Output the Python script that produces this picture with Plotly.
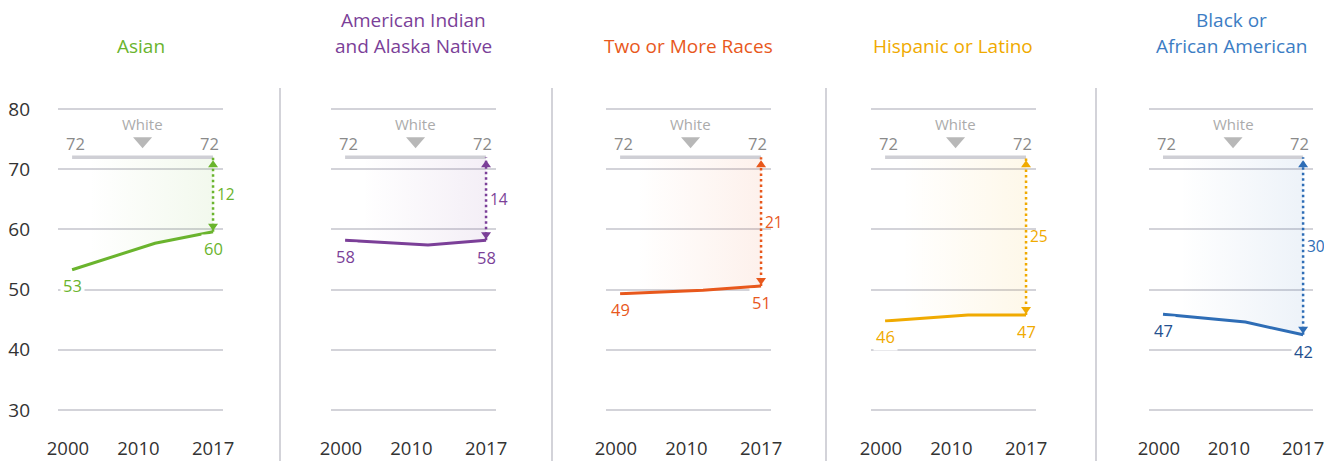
import plotly.graph_objects as go

# ---------------- data ----------------
years = [2000, 2010, 2017]
groups = ["Asian", "American Indian and Alaska Native", "Two or More Races",
          "Hispanic or Latino", "Black or African American"]
title_lines = [["Asian"], ["American Indian", "and Alaska Native"], ["Two or More Races"],
               ["Hispanic or Latino"], ["Black or", "African American"]]
asian = [53.3, 57.7, 59.6]
aian = [58.2, 57.4, 58.2]
two_more = [49.3, 49.9, 50.6]
hispanic = [44.8, 45.8, 45.8]
black = [45.9, 44.6, 42.5]
series = [asian, aian, two_more, hispanic, black]

white_years = [2000, 2017]
white = [72, 72]
white_labels = ["72", "72"]

start_labels = ["53", "58", "49", "46", "47"]
end_labels = ["60", "58", "51", "47", "42"]
gap_labels = ["12", "14", "21", "25", "30"]

y_ticks = [30, 40, 50, 60, 70, 80]
x_tick_text = ["2000", "2010", "2017"]

# ---------------- style ----------------
line_colors = ["#6ab42d", "#7b3f98", "#e8581c", "#f0aa00", "#2e6db6"]
label_colors = ["#6ab42d", "#7b3f98", "#e8581c", "#f0aa00", "#23508f"]
title_colors = ["#6ab42d", "#7b3f98", "#e8581c", "#f0aa00", "#3c7dc4"]
rgb = [(106, 180, 45), (123, 63, 152), (232, 88, 28), (240, 170, 0), (46, 109, 182)]

OFF = 8  # page body margin offset
W, H = 1332, 461
PLOT_TOP, PLOT_BOT = 103 - OFF, 416 - OFF
MT, MB = PLOT_TOP, H - PLOT_BOT
panel_px = [(58, 223), (331, 496), (606, 771), (871, 1036), (1149, 1313)]
panel_px = [(a - OFF, b - OFF) for a, b in panel_px]
sep_px = [x - OFF for x in [280, 552, 826, 1096]]
GRID = "#d3d3d9"
FONT = "Open Sans"


def py2paper(py):
    # py in screen pixels
    py = py - OFF
    return (H - MB - py) / (H - MT - MB)


fig = go.Figure()
annotations = []
shapes = []

for i, vals in enumerate(series):
    xa = "x" if i == 0 else f"x{i+1}"
    ya = "y" if i == 0 else f"y{i+1}"
    r, g, b = rgb[i]
    fig.add_trace(go.Scatter(x=white_years, y=white, mode="lines",
                             line=dict(color="#cfcfd5", width=3.5),
                             xaxis=xa, yaxis=ya, hoverinfo="skip", showlegend=False))
    fig.add_trace(go.Scatter(
        x=years, y=vals, mode="lines", fill="tonexty",
        fillgradient=dict(type="horizontal",
                          colorscale=[[0, f"rgba({r},{g},{b},0)"],
                                      [0.12, f"rgba({r},{g},{b},0.0)"],
                                      [1, f"rgba({r},{g},{b},0.085)"]]),
        line=dict(color=line_colors[i], width=3),
        xaxis=xa, yaxis=ya, showlegend=False))
    fig.add_trace(go.Scatter(x=[years[-1], years[-1]], y=[vals[-1], white[-1]], mode="lines",
                             line=dict(color=line_colors[i], width=2.5, dash="2.5px,3px"),
                             xaxis=xa, yaxis=ya, hoverinfo="skip", showlegend=False))

    shapes.append(dict(type="path", xref=xa, yref=ya, xsizemode="pixel", ysizemode="pixel",
                       xanchor=years[-1], yanchor=white[-1],
                       path="M 0 -3 L -5 -10 L 5 -10 Z",
                       fillcolor=line_colors[i], line=dict(width=0)))
    shapes.append(dict(type="path", xref=xa, yref=ya, xsizemode="pixel", ysizemode="pixel",
                       xanchor=years[-1], yanchor=vals[-1],
                       path="M 0 1 L -5 8 L 5 8 Z",
                       fillcolor=line_colors[i], line=dict(width=0)))
    mid = (white_years[0] + white_years[-1]) / 2
    shapes.append(dict(type="path", xref=xa, yref=ya, xsizemode="pixel", ysizemode="pixel",
                       xanchor=mid, yanchor=white[0],
                       path="M -9.5 20 L 9.5 20 L 0 9 Z",
                       fillcolor="#b8b8b8", line=dict(width=0)))

    annotations.append(dict(x=white_years[0], y=white[0], xref=xa, yref=ya, text=white_labels[0],
                            showarrow=False, yshift=14, xshift=3,
                            font=dict(size=16.5, color="#8a8a8a")))
    annotations.append(dict(x=white_years[-1], y=white[-1], xref=xa, yref=ya, text=white_labels[-1],
                            showarrow=False, yshift=14, xshift=-4,
                            font=dict(size=16.5, color="#8a8a8a")))
    annotations.append(dict(x=mid, y=white[0], xref=xa, yref=ya, text="White",
                            showarrow=False, yshift=33,
                            font=dict(size=15, color="#ababab")))
    annotations.append(dict(x=years[0], y=vals[0], xref=xa, yref=ya, text=start_labels[i],
                            showarrow=False, yshift=-16, bgcolor="white", borderpad=2,
                            font=dict(size=16.5, color=label_colors[i])))
    annotations.append(dict(x=years[-1], y=vals[-1], xref=xa, yref=ya, text=end_labels[i],
                            showarrow=False, yshift=-17, bgcolor="white", borderpad=2,
                            font=dict(size=16.5, color=label_colors[i])))
    annotations.append(dict(x=years[-1], y=(vals[-1] + white[-1]) / 2, xref=xa, yref=ya,
                            text=gap_labels[i], showarrow=False, xanchor="left", xshift=3,
                            borderpad=0, font=dict(size=15.5, color=line_colors[i])))
    cx = (panel_px[i][0] + panel_px[i][1]) / 2 / W
    lines = title_lines[i]
    pys = [46] if len(lines) == 1 else [20, 46]
    for t, pyy in zip(lines, pys):
        annotations.append(dict(x=cx, y=py2paper(pyy), xref="paper", yref="paper", text=t,
                                showarrow=False, xanchor="center", yanchor="middle",
                                font=dict(size=19, color=title_colors[i])))

    x0, x1 = panel_px[i]
    fig.layout[f"xaxis{'' if i == 0 else i+1}"] = dict(
        domain=[x0 / W, x1 / W], range=[1998.3, 2018.2], anchor=ya, automargin=False,
        tickmode="array", tickvals=[1999.5, 2008, 2017.0], ticktext=x_tick_text,
        showgrid=False, zeroline=False, showline=False, ticks="",
        ticklabelstandoff=19, tickfont=dict(size=18.5, color="#333333"), fixedrange=True)
    fig.layout[f"yaxis{'' if i == 0 else i+1}"] = dict(
        domain=[0, 1], range=[29, 81], anchor=xa, automargin=False,
        tickmode="array", tickvals=y_ticks, showticklabels=(i == 0),
        showgrid=True, gridcolor=GRID, gridwidth=1.6, zeroline=False, showline=False,
        ticks="", ticklabelstandoff=27, tickfont=dict(size=19, color="#333333"),
        fixedrange=True)

for sx in sep_px:
    shapes.append(dict(type="line", xref="paper", yref="paper",
                       x0=sx / W, x1=sx / W, y0=py2paper(88), y1=py2paper(470),
                       line=dict(color="#d3d3d9", width=2)))

fig.update_layout(
    width=W, height=H,
    margin=dict(l=0, r=0, t=MT, b=MB, autoexpand=False),
    paper_bgcolor="white", plot_bgcolor="white",
    font=dict(family=FONT, color="#333333"),
    annotations=annotations, shapes=shapes, showlegend=False,
)

fig.write_html("out.html")
